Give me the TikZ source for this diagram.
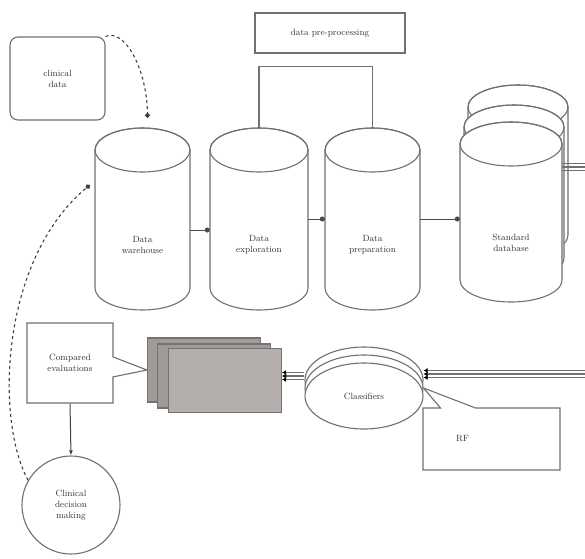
\documentclass[tikz,border=0pt]{standalone}
\usepackage{tikz}
\usetikzlibrary{calc}
\usetikzlibrary{shapes}
\usetikzlibrary{arrows.meta}
\definecolor{lincol}{RGB}{112,112,112}
\definecolor{stackgray}{RGB}{180,174,172}
\definecolor{stackdark}{RGB}{160,155,153}
\tikzset{
    outl/.style={draw=lincol, line width=1.1pt},
    dbtext/.style={font=\small, align=center, text=black!80},
    wire/.style={draw=lincol, line width=1.1pt},
    wiretip/.style={-{Latex[length=4pt,width=5pt,black]}},
    dotarrow/.style={draw=black!70, line width=1pt, -{Circle[length=5pt]}},
    dashlink/.style={draw=black!75, line width=1.1pt, dash pattern=on 3pt off 3pt, -{Circle[length=5pt]}},
    resbox/.style={rectangle, outl, draw=black!55, minimum width=113pt, minimum height=64pt},
    clsshape/.style={ellipse, outl, fill=white, minimum width=118pt, minimum height=66pt, font=\small, text=black!80}
}
% database cylinder: name, x, y, width, height, text, text shift
\newcommand{\dbcyl}[7]{
    \pgfmathsetmacro{\cylrx}{#4/2}
    \pgfmathsetmacro{\cylyt}{#3-#5/2+22}
    \pgfmathsetmacro{\cylyb}{#3+#5/2-22}
    \path[outl, fill=white] (#2-\cylrx,\cylyt) -- (#2-\cylrx,\cylyb) arc[start angle=180, end angle=0, x radius=\cylrx, y radius=22] -- (#2+\cylrx,\cylyt) arc[start angle=0, end angle=-180, x radius=\cylrx, y radius=22] -- cycle;
    \draw[outl] (#2,\cylyt) ellipse [x radius=\cylrx, y radius=22];
    \node[inner sep=0pt, minimum width=#4pt, minimum height=#5pt, label={[dbtext,yshift=#7pt]center:#6}] (#1) at ( #2 , #3 ) {};}

\begin{document}
\begin{tikzpicture}[x=1pt,y=-1pt]
        \useasboundingbox (0,0) rectangle (585,558);

        % inputs
        \node[outl, rounded corners=8pt, minimum width=95pt, minimum height=83pt, font=\small, align=center, text=black!80] (clin) at (57.5,78.5) {clinical\\data};
        \node[outl, minimum width=150pt, minimum height=40pt, font=\small, text=black!80] (prepro) at (330,33) {data pre-processing};

        % row of databases
        \dbcyl{wh}{142.5}{219}{95}{182}{Data\\warehouse}{-26}
        \dbcyl{expl}{259}{219}{98}{182}{Data\\exploration}{-26}
        \dbcyl{prep}{372.5}{219}{95}{182}{Data\\preparation}{-26}
        \dbcyl{sdbback}{518}{171}{100}{172}{}{0}
        \dbcyl{sdbmid}{514}{192.5}{100}{175}{}{0}
        \dbcyl{sdb}{511}{212}{102}{180}{Standard\\database}{-31}

        \draw[dotarrow] ($(wh.east)+(0,11)$) -- ($(expl.west)+(0,11)$);
        \draw[dotarrow] (expl.east) -- (prep.west);
        \draw[dotarrow] (prep.east) -- (prep.east -| sdb.west);
        \draw[outl] (expl.north) |- ($(prep.north)+(0,-61)$) -- (prep.north);

        % results stack
        \node[resbox, fill=stackdark] (resback) at (204,370) {};
        \node[resbox, fill=stackdark] (resmid) at (214,376) {};
        \node[resbox, fill=stackgray] (res) at (225,380.5) {};

        % classifiers
        \node[clsshape] (clsback) at (364,380) {};
        \node[clsshape] (clsmid) at (364,388) {};
        \node[clsshape] (cls) at (364,396) {Classifiers};

        % wires
        \coordinate (outR) at (585,167);
        \coordinate (inR) at (585,374);
        \foreach \dy in {-3.5,0,3.5}{
            \draw[wire] ($(sdb.east |- outR)+(0,\dy)$) -- ($(outR)+(0,\dy)$);
            \draw[wire,wiretip] ($(inR)+(0,\dy)$) -- ($(inR -| clsback.east)+(0,\dy)$);
            \draw[wire,wiretip] ($(clsback.west)+(0,\dy-4)$) -- ($(clsback.west -| res.east)+(0,\dy-4)$);
        }

        % callouts
        \node[rectangle callout, outl, fill=white, minimum width=86pt, minimum height=80pt, callout absolute pointer={(resback.west)}, callout pointer width=20pt, font=\small, align=center, text=black!80] (comp) at (70,363) {Compared\\evaluations};
        \node[rectangle callout, outl, fill=white, text width=71pt, inner xsep=33pt, minimum height=62pt, align=left, callout absolute pointer={(clsmid.east)}, callout pointer width=35pt, font=\small, text=black!80] (rf) at (491.5,439) {RF};

        % decision
        \node[circle, outl, minimum size=98pt, font=\small, align=center, text=black!80] (dec) at (71,505) {Clinical\\decision\\making};
        \draw[draw=black!75, line width=1pt, -{Latex[length=5pt,width=4pt]}] (comp.south) -- (dec.north);

        % dashed feedback
        \draw[dashlink] (clin.north east) .. controls (125,28) and (147,70) .. ($(wh.north)+(5,-10)$);
        \draw[dashlink] (dec.150) .. controls (-5,420) and (0,260) .. ($(wh.west)+(-5,-34)$);
\end{tikzpicture}
\end{document}
